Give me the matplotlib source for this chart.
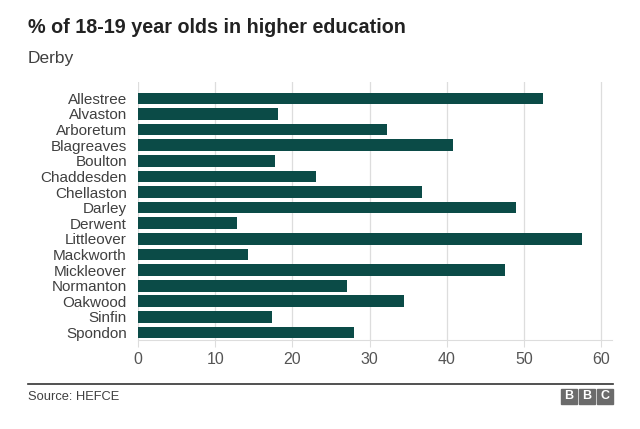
import matplotlib.pyplot as plt
from matplotlib.patches import Rectangle

plt.rcParams['font.family'] = ['Liberation Sans', 'DejaVu Sans']

wards = ['Allestree', 'Alvaston', 'Arboretum', 'Blagreaves', 'Boulton',
         'Chaddesden', 'Chellaston', 'Darley', 'Derwent', 'Littleover',
         'Mackworth', 'Mickleover', 'Normanton', 'Oakwood', 'Sinfin', 'Spondon']
pct = [52.5, 18.1, 32.2, 40.8, 17.8, 23.0, 36.8, 48.9, 12.8, 57.5,
       14.3, 47.6, 27.1, 34.5, 17.4, 28.0]
xticks = [0, 10, 20, 30, 40, 50, 60]

fig = plt.figure(figsize=(6.4, 4.29), dpi=100)
ax = fig.add_axes([138/640, 1 - 340/429, (612 - 138)/640, (340 - 82)/429])

ypos = list(range(len(wards)))
ax.barh(ypos, pct, height=0.75, color='#0b4b47', zorder=3)
ax.set_yticks(ypos)
ax.set_yticklabels(wards, fontsize=11, color='#404040')
ax.set_ylim(len(wards) - 0.52, -1.05)
ax.set_xlim(0, 61.4)
ax.set_xticks(xticks)
ax.set_xticklabels([str(t) for t in xticks], fontsize=11.5, color='#555555')
ax.grid(axis='x', color='#dddddd', linewidth=0.9, zorder=0)
for s in ['top', 'right', 'left']:
    ax.spines[s].set_visible(False)
ax.spines['bottom'].set_color('#dddddd')
ax.tick_params(axis='y', length=0, pad=8)
ax.tick_params(axis='x', length=5, color='#dddddd', pad=4)

fig.text(28/640, 1 - 33/429, '% of 18-19 year olds in higher education',
         fontsize=14.2, fontweight='bold', color='#222222')
fig.text(28/640, 1 - 63/429, 'Derby', fontsize=12.5, color='#404040')

# footer
fig.add_artist(plt.Line2D([28/640, 612.5/640], [1 - 384/429, 1 - 384/429],
                          color='#333333', linewidth=1.2))
fig.text(28/640, 1 - 399.5/429, 'Source: HEFCE', fontsize=9.3, color='#404040')
for i, letter in enumerate('BBC'):
    x0 = 561 + i * 18
    fig.add_artist(Rectangle((x0/640, 1 - 403.5/429), 15.5/640, 14.5/429,
                             transform=fig.transFigure, color='#6b6b6b'))
    fig.text((x0 + 7.75)/640, 1 - 396.3/429, letter, fontsize=9, fontweight='bold',
             color='white', ha='center', va='center')

fig.savefig('out.png', dpi=100, facecolor='white')
